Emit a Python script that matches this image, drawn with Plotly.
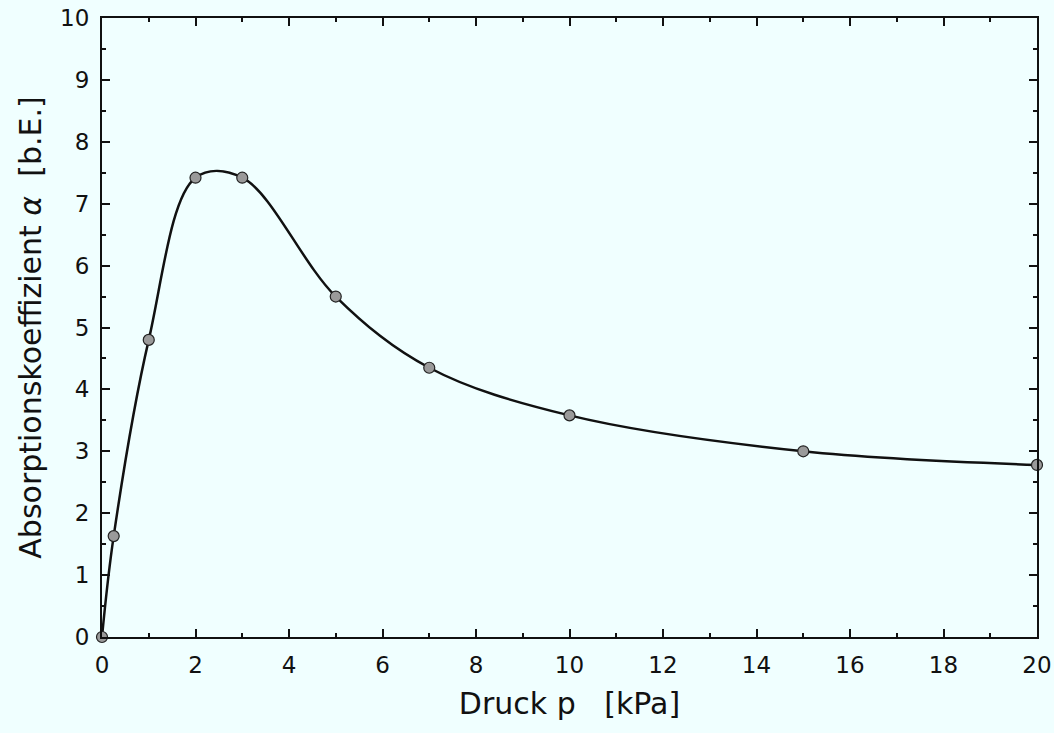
import plotly.graph_objects as go

pressure = [0, 0.25, 1, 2, 3, 5, 7, 10, 15, 20]
alpha = [0, 1.63, 4.8, 7.42, 7.42, 5.5, 4.35, 3.58, 3.0, 2.78]
x_ticks = [0, 2, 4, 6, 8, 10, 12, 14, 16, 18, 20]
y_ticks = [0, 1, 2, 3, 4, 5, 6, 7, 8, 9, 10]

bg = "#f0ffff"
font_family = "DejaVu Sans, Verdana, sans-serif"

fig = go.Figure()
fig.add_trace(go.Scatter(
    x=pressure, y=alpha, mode="lines+markers",
    line=dict(color="#111111", width=2.5, shape="spline", smoothing=1.0),
    marker=dict(size=11, color="#9a9a9a", line=dict(color="#222222", width=1.2)),
    showlegend=False, cliponaxis=False,
))

axis_common = dict(
    showgrid=False, zeroline=False, showline=True, linecolor="#111111", linewidth=2,
    mirror="ticks", ticks="inside", ticklen=8, tickwidth=1.5, tickcolor="#111111",
    tickfont=dict(family=font_family, size=23, color="#111111"),
    ticklabelstandoff=6, ticklabeloverflow="allow", automargin=False,
)

fig.update_xaxes(
    range=[0, 20], tickvals=x_ticks, ticktext=[str(v) for v in x_ticks],
    minor=dict(dtick=1, ticks="inside", ticklen=4, tickcolor="#111111"),
    title=dict(text="Druck p   [kPa]", font=dict(family=font_family, size=30, color="#111111"), standoff=16),
    **axis_common,
)
fig.update_yaxes(
    range=[0, 10], tickvals=y_ticks, ticktext=[str(v) for v in y_ticks],
    minor=dict(dtick=0.5, ticks="inside", ticklen=4, tickcolor="#111111"),
    title=dict(text="Absorptionskoeffizient <i>α</i>  [b.E.]", font=dict(family=font_family, size=30, color="#111111"), standoff=10),
    **axis_common,
)

fig.update_layout(
    width=1054, height=733,
    margin=dict(l=102, r=17, t=18, b=96),
    paper_bgcolor=bg, plot_bgcolor=bg,
)

fig.write_html("out.html")
